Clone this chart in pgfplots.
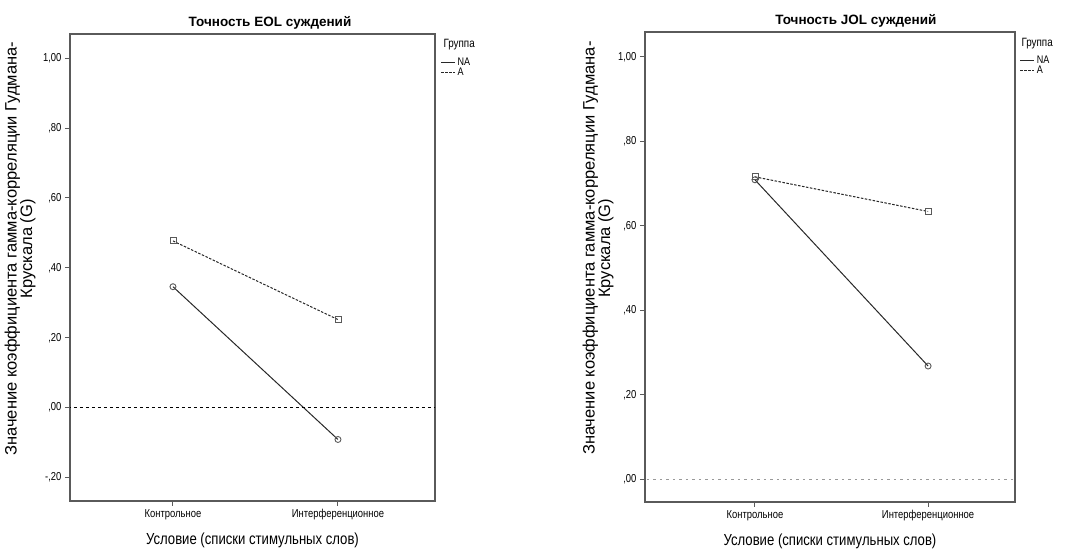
\documentclass[border=0pt]{standalone}
\usepackage{fontspec}
\setmainfont{Liberation Sans}
\newfontfamily\narrowfont{Liberation Sans}[FakeStretch=0.82]
\usepackage{pgfplots}
\pgfplotsset{compat=1.18}
\definecolor{axisgray}{RGB}{90,90,90}
\definecolor{linegray}{RGB}{40,40,40}
\pgfplotsset{
  spssaxis/.style={
    scale only axis,
    anchor=south west,
    clip=true,
    axis line style={axisgray, line width=1.1pt},
    xtick={0,1},
    xticklabels={Контрольное,Интерференционное},
    ticklabel style={font=\narrowfont\fontsize{11.5}{12}\selectfont, text=black},
    tick style={axisgray, line width=1pt},
    tick align=outside,
    major tick length=5pt,
    xtick pos=bottom, ytick pos=left,
    xlabel={Условие (списки стимульных слов)},
    xlabel style={font=\narrowfont\fontsize{16}{17}\selectfont},
    ylabel={Значение коэффициента гамма-корреляции Гудмана-\\Крускала (G)},
    ylabel style={font=\fontsize{16.5}{15.5}\selectfont, align=center},
    title style={font=\bfseries\fontsize{13.5}{14}\selectfont},
    legend style={draw=none, fill=none, font=\narrowfont\fontsize{11}{11}\selectfont,
      anchor=north west, row sep=-3pt, inner sep=1pt},
    legend image code/.code={\draw[#1] (0pt,0pt) -- (14pt,0pt);},
    legend cell align=left,
  },
  NAline/.style={linegray, line width=1pt, mark=o, mark size=3pt, mark options={solid, gray!70!black, line width=0.9pt}},
  Aline/.style={linegray, line width=1pt, dash pattern=on 2.5pt off 1.5pt, mark=square, mark size=3pt, mark options={solid, gray!70!black, line width=0.9pt}},
}
\begin{document}
\begin{tikzpicture}
\path[use as bounding box] (0pt,0pt) rectangle (1081pt,551pt);

% Left panel: EOL
\begin{axis}[spssaxis,
  at={(70pt,50pt)}, width=365pt, height=467pt,
  xmin=-0.624, xmax=1.588,
  ymin=-0.267, ymax=1.069,
  ytick={-0.2,0,0.2,0.4,0.6,0.8,1.0},
  yticklabels={{-,20},{,00},{,20},{,40},{,60},{,80},{1,00}},
  title={Точность EOL суждений},
  title style={at={(axis description cs:0.548,1)}, anchor=south, yshift=-5pt},
  ylabel style={at={(axis description cs:-0.137,0.54)}, anchor=center},
  xlabel style={at={(axis description cs:0.5,0)}, anchor=north, yshift=-28pt},
  legend style={at={(axis description cs:1.012,0.955)}},
]
\addplot[NAline] coordinates {(0,0.346) (1,-0.091)};
\addlegendentry{NA}
\addplot[Aline] coordinates {(0,0.477) (1,0.252)};
\addlegendentry{A}
\addplot[black, line width=0.8pt, dash pattern=on 3pt off 3pt, forget plot] coordinates {(-1,0) (2,0)};
\end{axis}
\node[anchor=west, font=\narrowfont\fontsize{12}{12}\selectfont] at (440pt,506pt) {Группа};

% Right panel: JOL
\begin{axis}[spssaxis,
  at={(645pt,49pt)}, width=370pt, height=470pt,
  xmin=-0.635, xmax=1.502,
  ymin=-0.054, ymax=1.059,
  ytick={0,0.2,0.4,0.6,0.8,1.0},
  yticklabels={{,00},{,20},{,40},{,60},{,80},{1,00}},
  title={Точность JOL суждений},
  title style={at={(axis description cs:0.57,1)}, anchor=south, yshift=-5pt},
  ylabel style={at={(axis description cs:-0.127,0.54)}, anchor=center},
  xlabel style={at={(axis description cs:0.5,0)}, anchor=north, yshift=-28pt},
  legend style={at={(axis description cs:1.01,0.955)}},
]
\addplot[gray!80, line width=0.9pt, dash pattern=on 2.5pt off 4pt, forget plot] coordinates {(-1,0) (2,0)};
\addplot[NAline] coordinates {(0,0.709) (1,0.268)};
\addlegendentry{NA}
\addplot[Aline] coordinates {(0,0.716) (1,0.634)};
\addlegendentry{A}
\end{axis}
\node[anchor=west, font=\narrowfont\fontsize{12}{12}\selectfont] at (1018pt,507pt) {Группа};
\end{tikzpicture}
\end{document}
